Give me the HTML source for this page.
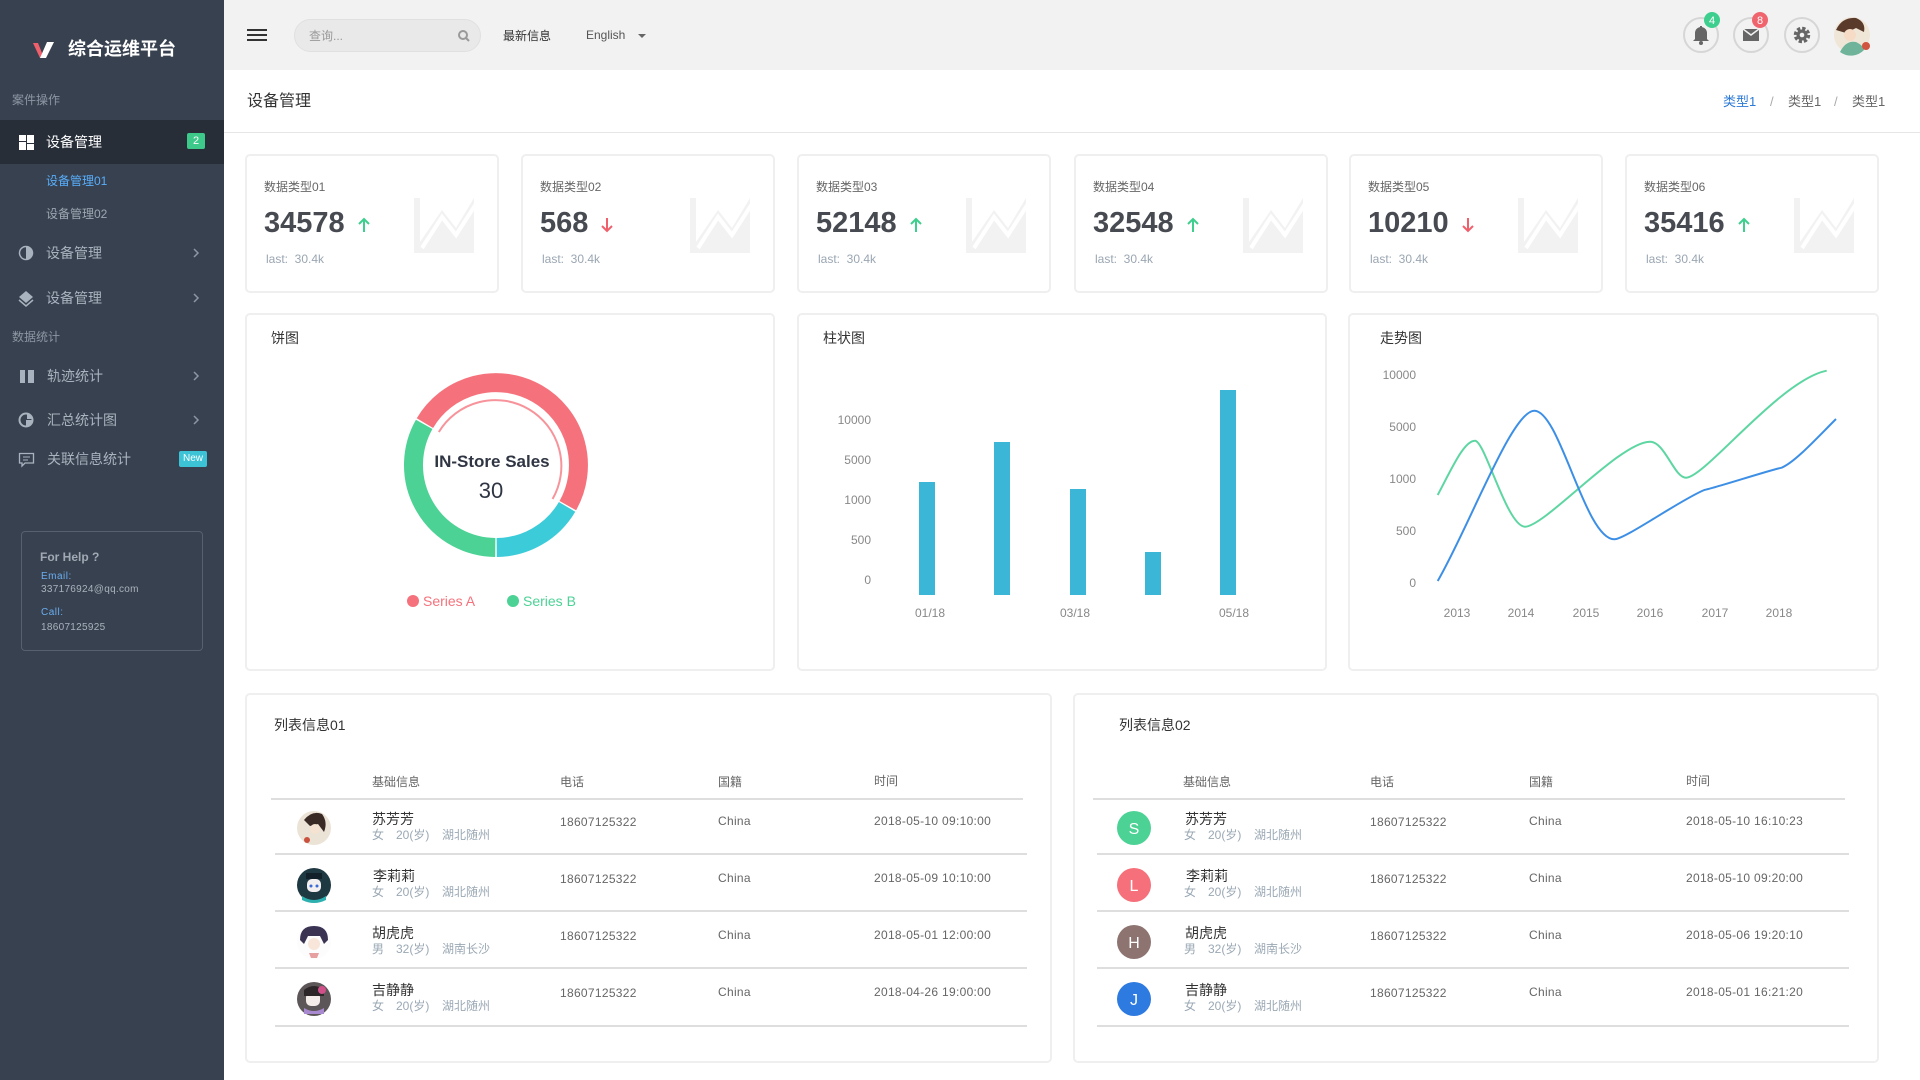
<!DOCTYPE html>
<html><head><meta charset="utf-8">
<style>
*{margin:0;padding:0;box-sizing:border-box}
body{width:1920px;height:1080px;overflow:hidden;background:#fff;font-family:"Liberation Sans","Noto Sans CJK SC",sans-serif;position:relative}
.a{position:absolute;white-space:nowrap}
.t{position:absolute;white-space:nowrap;height:20px;line-height:20px}
.card{position:absolute;border:2px solid #efefef;border-radius:5px;background:#fff}
.sb{color:#a9b3bf;font-size:14px}
.lbl{font-size:12px;color:#666}
.num{font-size:29px;font-weight:bold;color:#474b51;height:34px;line-height:34px;display:flex;align-items:center}
.num svg{margin-left:13px;margin-top:4px}
.last{font-size:12px;color:#9aa6b2}
.th{font-size:12px;color:#666}
.nm{font-size:14px;color:#333}
.sub{font-size:12px;color:#9aa8b4}
.cell{font-size:12px;color:#666;letter-spacing:.3px}
.hl{position:absolute;height:2px;background:#dedede}
</style></head><body>

<!-- SIDEBAR -->
<div class="a" style="left:0;top:0;width:224px;height:1080px;background:#38414f"></div>
<div class="a" style="left:0;top:120px;width:224px;height:44px;background:#272e38"></div>
<div class="t" style="left:68px;top:38px;height:22px;line-height:22px;font-size:18px;font-weight:bold;color:#fff">综合运维平台</div>
<div class="t" style="left:12px;top:90px;font-size:12px;color:#8d97a4">案件操作</div>
<div class="t" style="left:46px;top:132px;font-size:14px;color:#fff">设备管理</div>
<div class="a" style="left:187px;top:133px;width:18px;height:16px;background:#3dc98a;border-radius:2px;color:#fff;font-size:11px;line-height:16px;text-align:center">2</div>
<div class="t" style="left:46px;top:171px;font-size:12px;color:#58aefc">设备管理01</div>
<div class="t" style="left:46px;top:204px;font-size:12px;color:#9da7b3">设备管理02</div>
<div class="t sb" style="left:46px;top:243px">设备管理</div>
<div class="t sb" style="left:46px;top:288px">设备管理</div>
<div class="t" style="left:12px;top:327px;font-size:12px;color:#8d97a4">数据统计</div>
<div class="t sb" style="left:47px;top:366px">轨迹统计</div>
<div class="t sb" style="left:47px;top:410px">汇总统计图</div>
<div class="t sb" style="left:47px;top:449px">关联信息统计</div>
<div class="a" style="left:179px;top:451px;width:28px;height:16px;background:#3cc3d6;border-radius:2px;color:#fff;font-size:10px;line-height:16px;text-align:center">New</div>
<div class="a" style="left:21px;top:531px;width:182px;height:120px;border:1px solid #56606e;border-radius:4px"></div>
<div class="t" style="left:40px;top:547px;font-size:12px;font-weight:bold;color:#a0a9b4">For Help ?</div>
<div class="t" style="left:41px;top:567px;font-size:10px;color:#6aaef0;letter-spacing:.5px">Email:</div>
<div class="t" style="left:41px;top:580px;font-size:10px;color:#a9b2bd;letter-spacing:.3px">337176924@qq.com</div>
<div class="t" style="left:41px;top:603px;font-size:10px;color:#6aaef0;letter-spacing:.5px">Call:</div>
<div class="t" style="left:41px;top:618px;font-size:10px;color:#a9b2bd;letter-spacing:.3px">18607125925</div>

<!-- HEADER -->
<div class="a" style="left:224px;top:0;width:1696px;height:70px;background:#f2f2f2"></div>
<div class="a" style="left:294px;top:19px;width:187px;height:33px;background:#e9e9e9;border:1px solid #e0e0e0;border-radius:17px"></div>
<div class="t" style="left:309px;top:26px;font-size:12px;color:#999">查询...</div>
<div class="t" style="left:503px;top:26px;font-size:12px;color:#333">最新信息</div>
<div class="t" style="left:586px;top:25px;font-size:12px;color:#555">English</div>

<!-- PAGE TITLE -->
<div class="t" style="left:247px;top:91px;height:22px;line-height:22px;font-size:16px;color:#333">设备管理</div>
<div class="t" style="left:1723px;top:92px;font-size:13px;color:#2d7ad6">类型1</div>
<div class="t" style="left:1770px;top:92px;font-size:13px;color:#aaa">/</div>
<div class="t" style="left:1788px;top:92px;font-size:13px;color:#666">类型1</div>
<div class="t" style="left:1834px;top:92px;font-size:13px;color:#aaa">/</div>
<div class="t" style="left:1852px;top:92px;font-size:13px;color:#666">类型1</div>
<div class="a" style="left:224px;top:132px;width:1696px;height:1px;background:#e6e6e6"></div>

<!-- STAT CARDS -->
<div class="card" style="left:245px;top:154px;width:254px;height:139px">
 <div class="t lbl" style="left:17px;top:21px">数据类型01</div>
 <div class="a num" style="left:17px;top:50px">34578<svg width="12" height="16" viewBox="0 0 12 16"><path d="M6 15V2M1 7L6 2L11 7" stroke="#3ecf8e" stroke-width="2" fill="none"/></svg></div>
 <div class="t last" style="left:19px;top:93px">last:&nbsp;&nbsp;30.4k</div>
 <svg class="a" style="left:167px;top:42px" width="60" height="55" viewBox="0 0 60 55"><rect x="0" y="0" width="6" height="55" fill="#f2f2f2"/><rect x="0" y="49" width="60" height="6" fill="#f2f2f2"/><polygon points="6,49 6,44 28,12 42,30 60,0 60,49" fill="#f2f2f2"/><polyline points="8,50 28,19 42,37 62,6" stroke="#fff" stroke-width="4" fill="none"/></svg>
</div>
<div class="card" style="left:521px;top:154px;width:254px;height:139px">
 <div class="t lbl" style="left:17px;top:21px">数据类型02</div>
 <div class="a num" style="left:17px;top:50px">568<svg width="12" height="16" viewBox="0 0 12 16"><path d="M6 1V14M1 9L6 14L11 9" stroke="#f0606c" stroke-width="2" fill="none"/></svg></div>
 <div class="t last" style="left:19px;top:93px">last:&nbsp;&nbsp;30.4k</div>
 <svg class="a" style="left:167px;top:42px" width="60" height="55" viewBox="0 0 60 55"><rect x="0" y="0" width="6" height="55" fill="#f2f2f2"/><rect x="0" y="49" width="60" height="6" fill="#f2f2f2"/><polygon points="6,49 6,44 28,12 42,30 60,0 60,49" fill="#f2f2f2"/><polyline points="8,50 28,19 42,37 62,6" stroke="#fff" stroke-width="4" fill="none"/></svg>
</div>
<div class="card" style="left:797px;top:154px;width:254px;height:139px">
 <div class="t lbl" style="left:17px;top:21px">数据类型03</div>
 <div class="a num" style="left:17px;top:50px">52148<svg width="12" height="16" viewBox="0 0 12 16"><path d="M6 15V2M1 7L6 2L11 7" stroke="#3ecf8e" stroke-width="2" fill="none"/></svg></div>
 <div class="t last" style="left:19px;top:93px">last:&nbsp;&nbsp;30.4k</div>
 <svg class="a" style="left:167px;top:42px" width="60" height="55" viewBox="0 0 60 55"><rect x="0" y="0" width="6" height="55" fill="#f2f2f2"/><rect x="0" y="49" width="60" height="6" fill="#f2f2f2"/><polygon points="6,49 6,44 28,12 42,30 60,0 60,49" fill="#f2f2f2"/><polyline points="8,50 28,19 42,37 62,6" stroke="#fff" stroke-width="4" fill="none"/></svg>
</div>
<div class="card" style="left:1074px;top:154px;width:254px;height:139px">
 <div class="t lbl" style="left:17px;top:21px">数据类型04</div>
 <div class="a num" style="left:17px;top:50px">32548<svg width="12" height="16" viewBox="0 0 12 16"><path d="M6 15V2M1 7L6 2L11 7" stroke="#3ecf8e" stroke-width="2" fill="none"/></svg></div>
 <div class="t last" style="left:19px;top:93px">last:&nbsp;&nbsp;30.4k</div>
 <svg class="a" style="left:167px;top:42px" width="60" height="55" viewBox="0 0 60 55"><rect x="0" y="0" width="6" height="55" fill="#f2f2f2"/><rect x="0" y="49" width="60" height="6" fill="#f2f2f2"/><polygon points="6,49 6,44 28,12 42,30 60,0 60,49" fill="#f2f2f2"/><polyline points="8,50 28,19 42,37 62,6" stroke="#fff" stroke-width="4" fill="none"/></svg>
</div>
<div class="card" style="left:1349px;top:154px;width:254px;height:139px">
 <div class="t lbl" style="left:17px;top:21px">数据类型05</div>
 <div class="a num" style="left:17px;top:50px">10210<svg width="12" height="16" viewBox="0 0 12 16"><path d="M6 1V14M1 9L6 14L11 9" stroke="#f0606c" stroke-width="2" fill="none"/></svg></div>
 <div class="t last" style="left:19px;top:93px">last:&nbsp;&nbsp;30.4k</div>
 <svg class="a" style="left:167px;top:42px" width="60" height="55" viewBox="0 0 60 55"><rect x="0" y="0" width="6" height="55" fill="#f2f2f2"/><rect x="0" y="49" width="60" height="6" fill="#f2f2f2"/><polygon points="6,49 6,44 28,12 42,30 60,0 60,49" fill="#f2f2f2"/><polyline points="8,50 28,19 42,37 62,6" stroke="#fff" stroke-width="4" fill="none"/></svg>
</div>
<div class="card" style="left:1625px;top:154px;width:254px;height:139px">
 <div class="t lbl" style="left:17px;top:21px">数据类型06</div>
 <div class="a num" style="left:17px;top:50px">35416<svg width="12" height="16" viewBox="0 0 12 16"><path d="M6 15V2M1 7L6 2L11 7" stroke="#3ecf8e" stroke-width="2" fill="none"/></svg></div>
 <div class="t last" style="left:19px;top:93px">last:&nbsp;&nbsp;30.4k</div>
 <svg class="a" style="left:167px;top:42px" width="60" height="55" viewBox="0 0 60 55"><rect x="0" y="0" width="6" height="55" fill="#f2f2f2"/><rect x="0" y="49" width="60" height="6" fill="#f2f2f2"/><polygon points="6,49 6,44 28,12 42,30 60,0 60,49" fill="#f2f2f2"/><polyline points="8,50 28,19 42,37 62,6" stroke="#fff" stroke-width="4" fill="none"/></svg>
</div>

<!-- CHART CARDS -->
<div class="card" style="left:245px;top:313px;width:530px;height:358px"></div>
<div class="card" style="left:797px;top:313px;width:530px;height:358px"></div>
<div class="card" style="left:1348px;top:313px;width:531px;height:358px"></div>
<div class="t" style="left:271px;top:328px;font-size:14px;color:#333">饼图</div>
<div class="t" style="left:823px;top:328px;font-size:14px;color:#333">柱状图</div>
<div class="t" style="left:1380px;top:328px;font-size:14px;color:#333">走势图</div>

<!-- TABLE CARDS -->
<div class="card" style="left:245px;top:693px;width:807px;height:370px"></div>
<div class="card" style="left:1073px;top:693px;width:806px;height:370px"></div>
<div class="t" style="left:274px;top:715px;font-size:14px;color:#333">列表信息01</div>
<div class="t" style="left:1119px;top:715px;font-size:14px;color:#333">列表信息02</div>

<!-- table 1 -->
<div class="t th" style="left:372px;top:772px">基础信息</div>
<div class="t th" style="left:560px;top:772px">电话</div>
<div class="t th" style="left:718px;top:772px">国籍</div>
<div class="t th" style="left:874px;top:771px">时间</div>
<div class="hl" style="left:271px;top:798px;width:752px"></div>
<div class="hl" style="left:275px;top:853px;width:752px"></div>
<div class="hl" style="left:275px;top:910px;width:752px"></div>
<div class="hl" style="left:275px;top:967px;width:752px"></div>
<div class="hl" style="left:275px;top:1025px;width:752px"></div>

<div class="t nm" style="left:372px;top:809px">苏芳芳</div>
<div class="t sub" style="left:372px;top:825px">女</div><div class="t sub" style="left:396px;top:825px">20(岁)</div><div class="t sub" style="left:442px;top:825px">湖北随州</div>
<div class="t cell" style="left:560px;top:812px">18607125322</div>
<div class="t cell" style="left:718px;top:811px">China</div>
<div class="t cell" style="left:874px;top:811px">2018-05-10 09:10:00</div>

<div class="t nm" style="left:373px;top:866px">李莉莉</div>
<div class="t sub" style="left:372px;top:882px">女</div><div class="t sub" style="left:396px;top:882px">20(岁)</div><div class="t sub" style="left:442px;top:882px">湖北随州</div>
<div class="t cell" style="left:560px;top:869px">18607125322</div>
<div class="t cell" style="left:718px;top:868px">China</div>
<div class="t cell" style="left:874px;top:868px">2018-05-09 10:10:00</div>

<div class="t nm" style="left:372px;top:923px">胡虎虎</div>
<div class="t sub" style="left:372px;top:939px">男</div><div class="t sub" style="left:396px;top:939px">32(岁)</div><div class="t sub" style="left:442px;top:939px">湖南长沙</div>
<div class="t cell" style="left:560px;top:926px">18607125322</div>
<div class="t cell" style="left:718px;top:925px">China</div>
<div class="t cell" style="left:874px;top:925px">2018-05-01 12:00:00</div>

<div class="t nm" style="left:372px;top:980px">吉静静</div>
<div class="t sub" style="left:372px;top:996px">女</div><div class="t sub" style="left:396px;top:996px">20(岁)</div><div class="t sub" style="left:442px;top:996px">湖北随州</div>
<div class="t cell" style="left:560px;top:983px">18607125322</div>
<div class="t cell" style="left:718px;top:982px">China</div>
<div class="t cell" style="left:874px;top:982px">2018-04-26 19:00:00</div>

<!-- table 2 -->
<div class="t th" style="left:1183px;top:772px">基础信息</div>
<div class="t th" style="left:1370px;top:772px">电话</div>
<div class="t th" style="left:1529px;top:772px">国籍</div>
<div class="t th" style="left:1686px;top:771px">时间</div>
<div class="hl" style="left:1093px;top:798px;width:752px"></div>
<div class="hl" style="left:1097px;top:853px;width:752px"></div>
<div class="hl" style="left:1097px;top:910px;width:752px"></div>
<div class="hl" style="left:1097px;top:967px;width:752px"></div>
<div class="hl" style="left:1097px;top:1025px;width:752px"></div>

<div class="t nm" style="left:1185px;top:809px">苏芳芳</div>
<div class="t sub" style="left:1184px;top:825px">女</div><div class="t sub" style="left:1208px;top:825px">20(岁)</div><div class="t sub" style="left:1254px;top:825px">湖北随州</div>
<div class="t cell" style="left:1370px;top:812px">18607125322</div>
<div class="t cell" style="left:1529px;top:811px">China</div>
<div class="t cell" style="left:1686px;top:811px">2018-05-10 16:10:23</div>

<div class="t nm" style="left:1186px;top:866px">李莉莉</div>
<div class="t sub" style="left:1184px;top:882px">女</div><div class="t sub" style="left:1208px;top:882px">20(岁)</div><div class="t sub" style="left:1254px;top:882px">湖北随州</div>
<div class="t cell" style="left:1370px;top:869px">18607125322</div>
<div class="t cell" style="left:1529px;top:868px">China</div>
<div class="t cell" style="left:1686px;top:868px">2018-05-10 09:20:00</div>

<div class="t nm" style="left:1185px;top:923px">胡虎虎</div>
<div class="t sub" style="left:1184px;top:939px">男</div><div class="t sub" style="left:1208px;top:939px">32(岁)</div><div class="t sub" style="left:1254px;top:939px">湖南长沙</div>
<div class="t cell" style="left:1370px;top:926px">18607125322</div>
<div class="t cell" style="left:1529px;top:925px">China</div>
<div class="t cell" style="left:1686px;top:925px">2018-05-06 19:20:10</div>

<div class="t nm" style="left:1185px;top:980px">吉静静</div>
<div class="t sub" style="left:1184px;top:996px">女</div><div class="t sub" style="left:1208px;top:996px">20(岁)</div><div class="t sub" style="left:1254px;top:996px">湖北随州</div>
<div class="t cell" style="left:1370px;top:983px">18607125322</div>
<div class="t cell" style="left:1529px;top:982px">China</div>
<div class="t cell" style="left:1686px;top:982px">2018-05-01 16:21:20</div>

<!-- GRAPHICS OVERLAY -->
<svg class="a" style="left:0;top:0" width="1920" height="1080" viewBox="0 0 1920 1080">
 <!-- logo V -->
 <polygon points="33,43 38,43 44,58 40,58" fill="#f0606c"/>
 <polygon points="47,42 54,42 46,58 40,58" fill="#fff"/>
 <!-- sidebar icons -->
 <rect x="19" y="135" width="7" height="6" fill="#fff"/><rect x="19" y="142" width="7" height="8" fill="#fff"/>
 <rect x="27" y="135" width="7" height="8" fill="#fff"/><rect x="27" y="144" width="7" height="6" fill="#fff"/>
 <circle cx="26" cy="253" r="6.5" fill="none" stroke="#a9b3bf" stroke-width="1.5"/><path d="M26 246.5 A6.5 6.5 0 0 1 26 259.5 Z" fill="#a9b3bf"/>
 <polygon points="26,291 33,297 26,303 19,297" fill="#a9b3bf"/><path d="M19 300 L26 306 L33 300" fill="none" stroke="#a9b3bf" stroke-width="1.5"/>
 <rect x="20" y="370" width="14" height="13" fill="#a9b3bf"/><rect x="25" y="370" width="3" height="13" fill="#38414f"/>
 <circle cx="26" cy="420" r="6.5" fill="none" stroke="#a9b3bf" stroke-width="2"/><path d="M27 413 A7 7 0 0 1 33 419 L27 419 Z" fill="#a9b3bf"/><path d="M26 420 L33 420 A7 7 0 0 1 26 427 Z" fill="#a9b3bf"/>
 <path d="M19.5 453.5 H33.5 V463 H25 L22 466 V463 H19.5 Z" fill="none" stroke="#a9b3bf" stroke-width="1.3"/><line x1="23" y1="457" x2="30" y2="457" stroke="#a9b3bf"/><line x1="23" y1="460" x2="28" y2="460" stroke="#a9b3bf"/>
 <g fill="none" stroke="#8d97a4" stroke-width="1.5">
  <polyline points="194,249 198,253 194,257"/><polyline points="194,294 198,298 194,302"/>
  <polyline points="194,372 198,376 194,380"/><polyline points="194,416 198,420 194,424"/>
 </g>
 <!-- header -->
 <rect x="247" y="29" width="20" height="2" fill="#333"/><rect x="247" y="34" width="20" height="2" fill="#333"/><rect x="247" y="39" width="20" height="2" fill="#333"/>
 <circle cx="463" cy="35" r="4" fill="none" stroke="#9a9a9a" stroke-width="2"/><line x1="466" y1="38" x2="469" y2="41" stroke="#9a9a9a" stroke-width="2"/>
 <polygon points="638,34 646,34 642,38" fill="#666"/>
 <g fill="#f2f2f2" stroke="#d6d6d6" stroke-width="2">
  <circle cx="1701" cy="35" r="17"/><circle cx="1751" cy="35" r="17"/><circle cx="1802" cy="35" r="17"/>
 </g>
 <path d="M1695 39 V33 A6 6 0 0 1 1707 33 V39 L1709 41 H1693 Z" fill="#666"/><circle cx="1701" cy="43" r="2" fill="#666"/><rect x="1700" y="26" width="2" height="2" fill="#666"/>
 <rect x="1743" y="29" width="16" height="12" fill="#666"/><path d="M1743 29 L1751 35 L1759 29" fill="none" stroke="#f2f2f2" stroke-width="1.5"/>
 <circle cx="1802" cy="35" r="6.5" fill="none" stroke="#666" stroke-width="3.5" stroke-dasharray="3.2 1.9"/><circle cx="1802" cy="35" r="5.5" fill="#666"/><circle cx="1802" cy="35" r="2.3" fill="#f2f2f2"/>
 <circle cx="1712" cy="20" r="8" fill="#3ecf8e"/><text x="1712" y="24" font-size="11" fill="#fff" text-anchor="middle" font-family="Liberation Sans">4</text>
 <circle cx="1760" cy="20" r="8" fill="#f0646e"/><text x="1760" y="24" font-size="11" fill="#fff" text-anchor="middle" font-family="Liberation Sans">8</text>
 <circle cx="1852" cy="35" r="18" fill="#efe6d8"/><path d="M1836 30 Q1842 17 1856 18 Q1866 22 1864 32 L1856 28 L1846 33 Z" fill="#5a3a2a"/><circle cx="1850" cy="35" r="6" fill="#f6dcc6"/><path d="M1840 52 Q1846 40 1856 42 Q1864 46 1864 50 A18 18 0 0 1 1840 52 Z" fill="#6fb49a"/><circle cx="1866" cy="46" r="4" fill="#d0543f"/>

 <!-- PIE -->
 <g fill="none" stroke-width="19">
  <path d="M424.92 423.13 A82.5 82.5 0 0 1 567.81 505.62" stroke="#f5727c"/>
  <path d="M567.08 506.87 A82.5 82.5 0 0 1 496.72 547.5" stroke="#3ccbd9"/>
  <path d="M495.28 547.5 A82.5 82.5 0 0 1 424.19 424.38" stroke="#4cd295"/>
 </g>
 <path d="M438.84 432 A66 66 0 0 1 552.57 498.99" fill="none" stroke="#f7949b" stroke-width="2"/>
 <text x="492" y="467" font-size="17" font-weight="bold" fill="#2f3542" text-anchor="middle" font-family="Liberation Sans">IN-Store Sales</text>
 <text x="491" y="498" font-size="22" fill="#2f3542" text-anchor="middle" font-family="Liberation Sans">30</text>
 <circle cx="413" cy="601" r="6" fill="#f5727c"/><text x="423" y="606" font-size="14" fill="#f5727c" font-family="Liberation Sans">Series  A</text>
 <circle cx="513" cy="601" r="6" fill="#4cd295"/><text x="523" y="606" font-size="14" fill="#4cd295" font-family="Liberation Sans">Series  B</text>

 <!-- BAR -->
 <g font-size="12" fill="#888" font-family="Liberation Sans" text-anchor="end">
  <text x="871" y="424">10000</text><text x="871" y="464">5000</text><text x="871" y="504">1000</text><text x="871" y="544">500</text><text x="871" y="584">0</text>
 </g>
 <g fill="#3bb6d6">
  <rect x="919" y="482" width="16" height="113"/><rect x="994" y="442" width="16" height="153"/><rect x="1070" y="489" width="16" height="106"/><rect x="1145" y="552" width="16" height="43"/><rect x="1220" y="390" width="16" height="205"/>
 </g>
 <g font-size="12" fill="#888" font-family="Liberation Sans" text-anchor="middle">
  <text x="930" y="617">01/18</text><text x="1075" y="617">03/18</text><text x="1234" y="617">05/18</text>
 </g>

 <!-- TREND -->
 <g font-size="12" fill="#888" font-family="Liberation Sans" text-anchor="end">
  <text x="1416" y="379">10000</text><text x="1416" y="431">5000</text><text x="1416" y="483">1000</text><text x="1416" y="535">500</text><text x="1416" y="587">0</text>
 </g>
 <g font-size="12" fill="#888" font-family="Liberation Sans" text-anchor="middle">
  <text x="1457" y="617">2013</text><text x="1521" y="617">2014</text><text x="1586" y="617">2015</text><text x="1650" y="617">2016</text><text x="1715" y="617">2017</text><text x="1779" y="617">2018</text>
 </g>
 <path d="M1437.7 495 C1452 468 1464 440.7 1475 440.7 C1485 440.7 1507 526.7 1525 526.7 C1545 526.7 1620 441.7 1650 441.7 C1665 441.7 1674 477.7 1686 477.7 C1705 477.7 1780 380 1826.7 370.7" fill="none" stroke="#5dd6a2" stroke-width="2"/>
 <path d="M1437.7 581 C1470 525 1512 410.7 1534.3 410.7 C1560 410.7 1585 539.3 1614.3 539.3 C1625 539.3 1680 500 1704.3 490 C1715 488 1770 470 1781.7 467.7 C1795 462 1815 440 1836 419" fill="none" stroke="#3d8fe6" stroke-width="2"/>

 <!-- table 1 avatars -->
 <circle cx="314" cy="828" r="17" fill="#ebe3d6"/><path d="M304 820 Q312 810 322 814 Q328 822 324 832 L318 824 L310 826 Z" fill="#3a2a26"/><circle cx="315" cy="829" r="5" fill="#f6e2d0"/><circle cx="307" cy="840" r="3" fill="#c9513e"/>
 <circle cx="314" cy="885" r="17" fill="#1f3942"/><rect x="307" y="879" width="14" height="13" rx="5" fill="#f3eef0"/><rect x="306" y="873" width="16" height="6" fill="#12202a"/><circle cx="311" cy="886" r="1.5" fill="#3a6ad6"/><circle cx="317" cy="886" r="1.5" fill="#3a6ad6"/><path d="M302 896 Q314 904 326 896 L326 900 Q314 906 302 900 Z" fill="#2fb0b0"/>
 <circle cx="314" cy="942" r="17" fill="#fdfcfd"/><path d="M300 940 Q300 926 314 926 Q328 926 328 940 L324 944 L320 936 L308 936 L304 944 Z" fill="#3a3352"/><circle cx="314" cy="944" r="6" fill="#f8e6da"/><path d="M309 953 L319 953 L317 958 L311 958 Z" fill="#e7a0a0"/>
 <circle cx="314" cy="999" r="17" fill="#5d5659"/><rect x="306" y="992" width="14" height="14" rx="5" fill="#f4ece8"/><path d="M304 990 Q314 982 324 990 L324 996 L304 996 Z" fill="#2d2628"/><circle cx="322" cy="990" r="4" fill="#d0508a"/><path d="M304 1008 Q314 1014 324 1008 L324 1014 L304 1014 Z" fill="#a98ad0"/>

 <!-- table 2 avatars -->
 <circle cx="1134" cy="828" r="17" fill="#4cd295"/><text x="1134" y="834" font-size="16" fill="#fff" text-anchor="middle" font-family="Liberation Sans">S</text>
 <circle cx="1134" cy="885" r="17" fill="#f5707a"/><text x="1134" y="891" font-size="16" fill="#fff" text-anchor="middle" font-family="Liberation Sans">L</text>
 <circle cx="1134" cy="942" r="17" fill="#8d7470"/><text x="1134" y="948" font-size="16" fill="#fff" text-anchor="middle" font-family="Liberation Sans">H</text>
 <circle cx="1134" cy="999" r="17" fill="#2d7ae0"/><text x="1134" y="1005" font-size="16" fill="#fff" text-anchor="middle" font-family="Liberation Sans">J</text>
</svg>
</body></html>
